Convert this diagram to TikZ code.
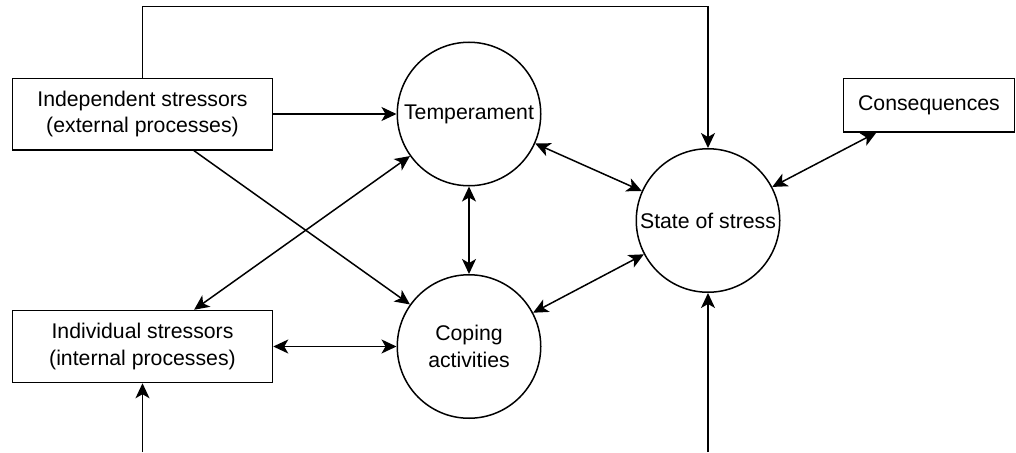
\documentclass[tikz,border=0pt]{standalone}
\usepackage{fontspec}
\setmainfont{Liberation Sans}
\usetikzlibrary{arrows.meta}
\begin{document}
\begin{tikzpicture}[x=1pt,y=-1pt,
  every node/.style={font=\fontsize{21.25}{26.5}\selectfont, align=center},
  box/.style={draw, line width=1.5pt, rectangle, inner sep=0pt},
  ring/.style={draw, line width=1.5pt, circle, inner sep=0pt, minimum size=143.5pt},
  link/.style={line width=1.5pt},
  >={Stealth[length=15pt,width=14pt,inset=4pt]}]
\useasboundingbox (0,0) rectangle (1016,452);

% stressor boxes and outcome box
\node[box, minimum width=260pt, minimum height=71.5pt] (ind) at (142.5,114) {Independent stressors\\(external processes)};
\node[box, minimum width=260pt, minimum height=72pt] (indiv) at (142.5,346.5) {Individual stressors\\(internal processes)};
\node[box, minimum width=171pt, minimum height=53.5pt] (cons) at (929,105) {Consequences};

% circular states
\node[ring] (temp) at (469,114) {Temperament};
\node[ring] (cope) at (469,346.5) {Coping\\activities};
\node[ring] (state) at (708,220.5) {State of stress};

% free ends of the outside inputs
\coordinate (top) at (425,6.7);
\coordinate (inA) at (142.5,452);
\coordinate (inB) at (708,452);

% connectors
\draw[link,->] (ind) -- (temp);
\draw[link,->] (ind) -- (cope);
\draw[link,<->] (indiv) -- (temp);
\draw[link,<->] (indiv) -- (cope);
\draw[link,<->] (temp) -- (cope);
\draw[link,<->] (temp) -- (state);
\draw[link,<->] (cope) -- (state);
\draw[link,<->] (state) -- (cons);
\draw[link,->] (ind.north) |- (top) -| (state.north);
\draw[link,->] (inA) -- (indiv.south);
\draw[link,->] (inB) -- (state.south);
\end{tikzpicture}
\end{document}
